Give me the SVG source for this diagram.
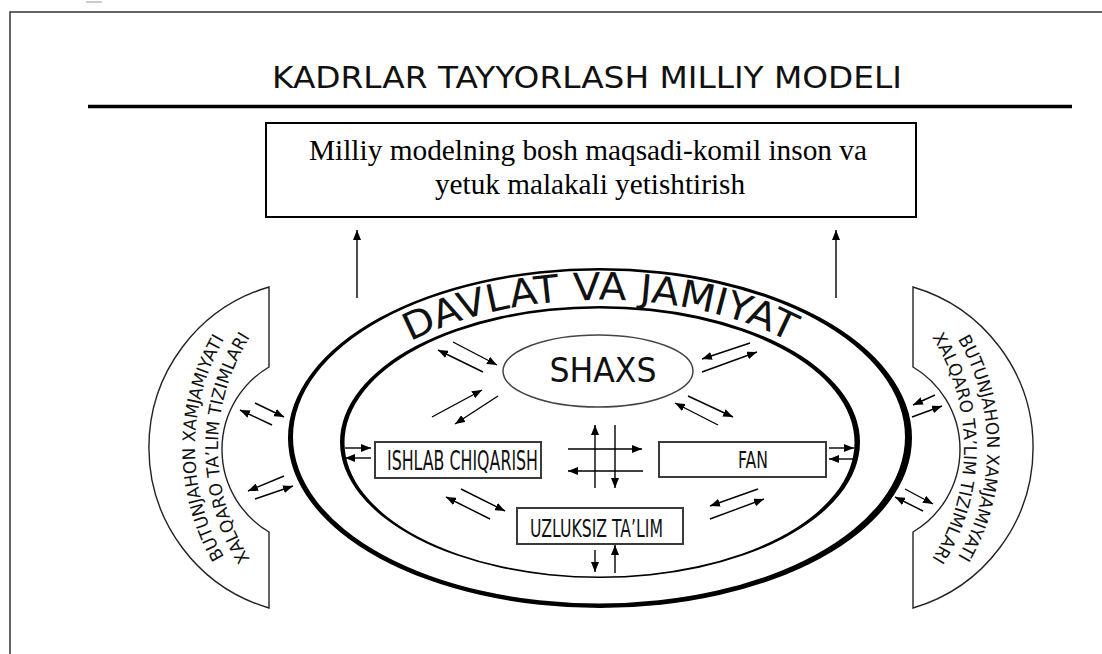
<svg xmlns="http://www.w3.org/2000/svg" width="1102" height="654" viewBox="0 0 1102 654">
<style>
.sans{font-family:"DejaVu Sans",Verdana,sans-serif;fill:#111}
.serif{font-family:"Liberation Serif","Times New Roman",serif;fill:#000}
.arr{stroke:#000;stroke-width:1.4;fill:none;marker-end:url(#ah)}
.box{fill:#fff;stroke:#3a3a3a;stroke-width:2}
.side{fill:#fff;stroke:#222;stroke-width:1.4}
.ring{fill:#000;fill-rule:evenodd}
</style>
<defs>
<marker id="ah" markerUnits="userSpaceOnUse" markerWidth="11" markerHeight="8" refX="10" refY="4" orient="auto"><path d="M0,0 L10,4 L0,8 z" fill="#000"/></marker>
<path id="tpDav" d="M380,361 A273,150 0 0,1 820,361"/>
<path id="lt1" d="M226,560 A217.8,217.8 0 0,1 226,336"/>
<path id="lt2" d="M252,562 A208,208 0 0,1 252,334"/>
<path id="rt1" d="M956,336 A217.8,217.8 0 0,1 956,560"/>
<path id="rt2" d="M930,334 A208,208 0 0,1 930,562"/>
</defs>
<rect width="1102" height="654" fill="#fff"/>
<path d="M10,662 L10,12 L1110,12" fill="none" stroke="#333" stroke-width="1.5"/>
<line x1="86" y1="2" x2="102" y2="2" stroke="#999" stroke-width="1"/>

<g id="title">
<text class="sans" x="587" y="88" font-size="31" text-anchor="middle" textLength="630" lengthAdjust="spacingAndGlyphs">KADRLAR TAYYORLASH MILLIY MODELI</text>
<line x1="88" y1="106.5" x2="1072" y2="106.5" stroke="#000" stroke-width="3.5"/>
</g>

<g id="goal">
<rect x="266" y="123" width="650" height="94" fill="#fff" stroke="#000" stroke-width="2"/>
<text class="serif" x="588" y="160" font-size="29" text-anchor="middle" textLength="558" lengthAdjust="spacingAndGlyphs">Milliy modelning bosh maqsadi-komil inson va</text>
<text class="serif" x="590" y="194" font-size="29" text-anchor="middle" textLength="310" lengthAdjust="spacingAndGlyphs">yetuk malakali yetishtirish</text>
</g>

<g id="left-world">
<path class="side" d="M269,287 L269,367 A95.9,95.9 0 0,0 269,532 L269,608 A167.3,167.3 0 0,1 269,287 Z"/>
<text class="sans" font-size="17.5" text-anchor="middle"><textPath href="#lt1" startOffset="50%" textLength="228" lengthAdjust="spacingAndGlyphs">BUTUNJAHON XAMJAMIYATI</textPath><textPath href="#lt2" startOffset="50%" textLength="234" lengthAdjust="spacingAndGlyphs">XALQARO TA’LIM TIZIMLARI</textPath></text>
</g>

<g id="right-world">
<path class="side" d="M913,287 L913,367 A95.9,95.9 0 0,1 913,532 L913,608 A167.3,167.3 0 0,0 913,287 Z"/>
<text class="sans" font-size="17.5" text-anchor="middle"><textPath href="#rt1" startOffset="50%" textLength="228" lengthAdjust="spacingAndGlyphs">BUTUNJAHON XAMJAMIYATI</textPath><textPath href="#rt2" startOffset="50%" textLength="234" lengthAdjust="spacingAndGlyphs">XALQARO TA’LIM TIZIMLARI</textPath></text>
</g>

<g id="davlat">
<path class="ring" d="M288,438 a312,170 0 1,0 624,0 a312,170 0 1,0 -624,0 Z M293,437 a306,166.5 0 1,0 612,0 a306,166.5 0 1,0 -612,0 Z"/>
<path class="ring" d="M340,442 a260,136 0 1,0 520,0 a260,136 0 1,0 -520,0 Z M344.5,442.5 a255,134 0 1,0 510,0 a255,134 0 1,0 -510,0 Z"/>
<text class="sans" font-size="38" text-anchor="middle"><textPath href="#tpDav" startOffset="50%" textLength="392" lengthAdjust="spacingAndGlyphs">DAVLAT VA JAMIYAT</textPath></text>
</g>

<g id="shaxs">
<ellipse cx="598" cy="371" rx="95" ry="36" fill="#fff" stroke="#444" stroke-width="1.5"/>
<text class="sans" x="603" y="382" font-size="33" text-anchor="middle" textLength="107" lengthAdjust="spacingAndGlyphs">SHAXS</text>
</g>

<g id="ishlab">
<rect class="box" x="375" y="442" width="166" height="36"/>
<text class="sans" x="462.5" y="470" font-size="26" text-anchor="middle" textLength="151" lengthAdjust="spacingAndGlyphs">ISHLAB CHIQARISH</text>
</g>

<g id="fan">
<rect class="box" x="659" y="442" width="167" height="35"/>
<text class="sans" x="753" y="468" font-size="23" text-anchor="middle" textLength="30" lengthAdjust="spacingAndGlyphs">FAN</text>
</g>

<g id="uzluksiz">
<rect class="box" x="517" y="508" width="166" height="36"/>
<text class="sans" x="596.5" y="537" font-size="24" text-anchor="middle" textLength="133" lengthAdjust="spacingAndGlyphs">UZLUKSIZ TA’LIM</text>
</g>

<g id="connectors">
<line class="arr" x1="357" y1="298" x2="357" y2="230"/>
<line class="arr" x1="836" y1="298" x2="836" y2="230"/>
<line class="arr" x1="453" y1="342" x2="497" y2="365"/>
<line class="arr" x1="483" y1="372" x2="438" y2="350"/>
<line class="arr" x1="750" y1="343" x2="702" y2="359"/>
<line class="arr" x1="702" y1="372" x2="757" y2="352"/>
<line class="arr" x1="432" y1="417" x2="482" y2="390"/>
<line class="arr" x1="498" y1="396" x2="455" y2="424"/>
<line class="arr" x1="688" y1="396" x2="733" y2="417"/>
<line class="arr" x1="718" y1="425" x2="675" y2="403"/>
<line class="arr" x1="595" y1="488" x2="595" y2="425"/>
<line class="arr" x1="615" y1="425" x2="615" y2="488"/>
<line class="arr" x1="568" y1="449" x2="642" y2="449"/>
<line class="arr" x1="643" y1="471" x2="568" y2="471"/>
<line class="arr" x1="345" y1="448" x2="371" y2="448"/>
<line class="arr" x1="371" y1="458" x2="345" y2="458"/>
<line class="arr" x1="461" y1="489" x2="505" y2="511"/>
<line class="arr" x1="490" y1="519" x2="446" y2="497"/>
<line class="arr" x1="758" y1="489" x2="710" y2="506"/>
<line class="arr" x1="710" y1="519" x2="764" y2="499"/>
<line class="arr" x1="595" y1="550" x2="595" y2="572"/>
<line class="arr" x1="615" y1="573" x2="615" y2="545"/>
<line class="arr" x1="829" y1="448" x2="854" y2="448"/>
<line class="arr" x1="854" y1="459" x2="829" y2="459"/>
<line class="arr" x1="255" y1="403" x2="284" y2="417"/>
<line class="arr" x1="272" y1="425" x2="240" y2="410"/>
<line class="arr" x1="284" y1="476" x2="248" y2="491"/>
<line class="arr" x1="255" y1="499" x2="293" y2="486"/>
<line class="arr" x1="935" y1="395" x2="913" y2="405"/>
<line class="arr" x1="912" y1="417" x2="942" y2="406"/>
<line class="arr" x1="905" y1="489" x2="933" y2="504"/>
<line class="arr" x1="923" y1="511" x2="895" y2="497"/>
</g>
</svg>
